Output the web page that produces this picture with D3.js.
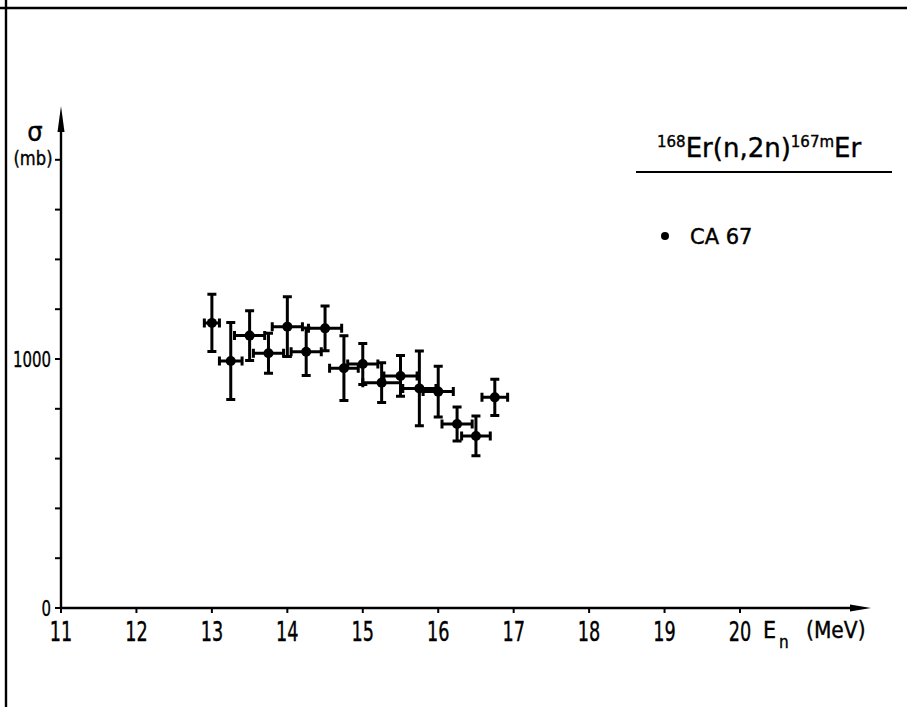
<!DOCTYPE html>
<html><head><meta charset="utf-8">
<script src="https://cdn.jsdelivr.net/npm/d3@7"></script>
<style>html,body{margin:0;padding:0;background:#fff;} svg{display:block}</style>
</head><body>
<svg id="c" width="907" height="707"></svg>
<script>
// ---- data ----
const energy    = [13.0, 13.25, 13.5, 13.75, 14.0, 14.25, 14.5, 14.75, 15.0, 15.25, 15.5, 15.75, 16.0, 16.25, 16.5, 16.75];
const energyErr = [0.10, 0.15, 0.20, 0.20, 0.20, 0.20, 0.22, 0.19, 0.20, 0.25, 0.22, 0.22, 0.20, 0.20, 0.19, 0.17];
const sigma     = [1145, 992, 1094, 1023, 1130, 1029, 1123, 963, 980, 905, 932, 882, 869, 739, 691, 846];
const sigmaErr  = [115, 155, 100, 80, 120, 95, 90, 130, 82, 80, 82, 150, 102, 68, 80, 73];
const xTicks = [11, 12, 13, 14, 15, 16, 17, 18, 19, 20];
const yTicks = [0, 200, 400, 600, 800, 1000, 1200, 1400, 1600, 1800];
const yTickLabels = [0, 1000];
const seriesName = "CA 67";

const svg = d3.select("#c");
const FONT = "'DejaVu Sans', sans-serif";
const x = d3.scaleLinear().domain([11, 20]).range([61, 740]);
const y = d3.scaleLinear().domain([0, 1000]).range([608, 359]);

svg.append("rect").attr("width", 907).attr("height", 707).attr("fill", "#fff");

// frame lines
svg.append("line").attr("x1", 0).attr("x2", 907).attr("y1", 8).attr("y2", 8).attr("stroke", "#000").attr("stroke-width", 2.4);
svg.append("line").attr("x1", 6).attr("x2", 6).attr("y1", 0).attr("y2", 707).attr("stroke", "#000").attr("stroke-width", 2.4);

function txt(g, px, py, s, size, anchor, sx) {
  return g.append("text")
    .attr("transform", `translate(${px},${py}) scale(${sx || 1},1)`)
    .attr("text-anchor", anchor || "start")
    .attr("font-family", FONT).attr("font-size", size).attr("fill", "#000")
    .attr("stroke", "#000").attr("stroke-width", 0.4).text(s);
}

// axes
const ax = svg.append("g");
ax.append("line").attr("x1", x(11)).attr("x2", 852).attr("y1", y(0)).attr("y2", y(0)).attr("stroke", "#000").attr("stroke-width", 2.4);
ax.append("path").attr("d", `M850,${y(0)-3.5} L871,${y(0)} L850,${y(0)+3.5} Z`).attr("fill", "#000");
ax.append("line").attr("x1", x(11)).attr("x2", x(11)).attr("y1", y(0)).attr("y2", 128).attr("stroke", "#000").attr("stroke-width", 2.4);
ax.append("path").attr("d", `M${x(11)-3.5},132 L${x(11)},106 L${x(11)+3.5},132 Z`).attr("fill", "#000");

// x ticks + labels
xTicks.forEach(t => {
  ax.append("line").attr("x1", x(t)).attr("x2", x(t)).attr("y1", y(0)).attr("y2", y(0) + 5).attr("stroke", "#000").attr("stroke-width", 2);
  txt(ax, x(t), 641, String(t), 26, "middle", 0.68);
});
// axis title
txt(ax, 763, 638, "E", 23, "start", 0.9);
txt(ax, 779, 648, "n", 17, "start", 0.9);
txt(ax, 806, 638, "(MeV)", 23, "start", 0.88);

// y ticks + labels
yTicks.forEach(t => {
  ax.append("line").attr("x1", x(11) - 6).attr("x2", x(11)).attr("y1", y(t)).attr("y2", y(t)).attr("stroke", "#000").attr("stroke-width", 2);
});
yTickLabels.forEach(t => {
  txt(ax, 51, y(t) + 8, String(t), 22, "end", 0.68);
});
txt(ax, 35, 141, "σ", 27, "middle", 0.9);
txt(ax, 33, 165, "(mb)", 19, "middle", 0.86);

// data: error bars + points
const g = svg.append("g");
const idx = d3.range(energy.length);
const cap = 4.5;
idx.forEach(i => {
  const cx = x(energy[i]), cy = y(sigma[i]);
  const y1 = y(sigma[i] + sigmaErr[i]), y2 = y(sigma[i] - sigmaErr[i]);
  const xa = x(energy[i] - energyErr[i]), xb = x(energy[i] + energyErr[i]);
  const p = `M${cx},${y1}V${y2}M${cx-cap},${y1}H${cx+cap}M${cx-cap},${y2}H${cx+cap}` +
            `M${xa},${cy}H${xb}M${xa},${cy-cap}V${cy+cap}M${xb},${cy-cap}V${cy+cap}`;
  g.append("path").attr("d", p).attr("stroke", "#000").attr("stroke-width", 3).attr("fill", "none");
});
g.selectAll("circle").data(idx).join("circle")
  .attr("cx", i => x(energy[i])).attr("cy", i => y(sigma[i])).attr("r", 5).attr("fill", "#000");

// reaction title + legend
const lg = svg.append("g");
const t = lg.append("text").attr("x", 657).attr("y", 157).attr("font-family", FONT).attr("font-size", 26)
  .attr("fill", "#000").attr("stroke", "#000").attr("stroke-width", 0.4);
t.append("tspan").attr("font-size", 15).attr("dy", -10).text("168");
t.append("tspan").attr("dy", 10).text("Er(n,2n)");
t.append("tspan").attr("font-size", 15).attr("dy", -10).text("167m");
t.append("tspan").attr("dy", 10).text("Er");
lg.append("line").attr("x1", 636).attr("x2", 892).attr("y1", 172).attr("y2", 172).attr("stroke", "#000").attr("stroke-width", 2.2);
lg.append("circle").attr("cx", 665).attr("cy", 236).attr("r", 4).attr("fill", "#000");
txt(lg, 690, 244, seriesName, 21, "start", 1);
</script>
</body></html>
